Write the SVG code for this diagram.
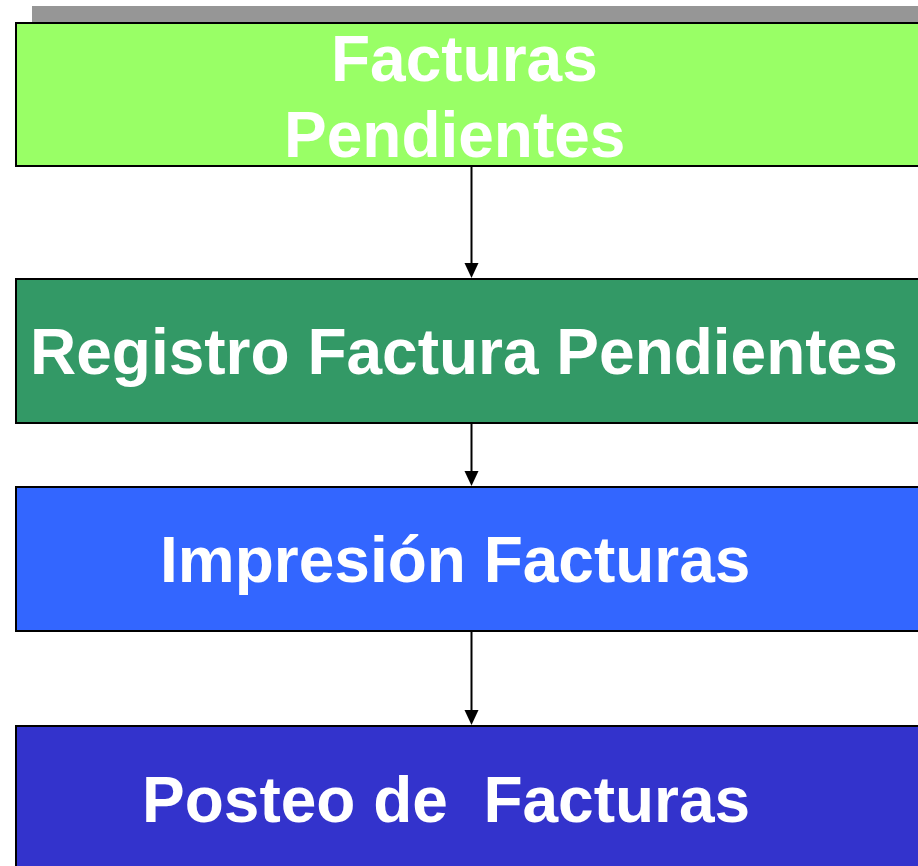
<svg xmlns="http://www.w3.org/2000/svg" width="918" height="866" viewBox="0 0 918 866">
<defs>
<style>
.box{stroke:#000;stroke-width:2}
.lbl{font-family:"Liberation Sans",Arial,sans-serif;font-weight:bold;font-size:64px;fill:#fff;white-space:pre}
.conn{stroke:#000;stroke-width:2;fill:none}
.head{fill:#000}
</style>
</defs>
<rect x="0" y="0" width="918" height="866" fill="#fff"/>
<rect x="32" y="6" width="900" height="16" fill="#969696"/>
<g id="node1">
<rect class="box" x="16" y="23" width="920" height="143" fill="#99FF66"/>
<text class="lbl" x="331" y="81">Facturas</text>
<text class="lbl" x="284" y="157">Pendientes</text>
</g>
<g id="node2">
<rect class="box" x="16" y="279" width="920" height="144" fill="#339966"/>
<text class="lbl" x="30" y="374">Registro Factura Pendientes</text>
</g>
<g id="node3">
<rect class="box" x="16" y="487" width="920" height="144" fill="#3366FF"/>
<text class="lbl" x="160" y="582">Impresión Facturas</text>
</g>
<g id="node4">
<rect class="box" x="16" y="726" width="920" height="150" fill="#3333CC"/>
<text class="lbl" x="142" y="822" xml:space="preserve">Posteo de  Facturas</text>
</g>
<g id="connectors">
<line class="conn" x1="471.5" y1="167" x2="471.5" y2="264"/>
<path class="head" d="M464.5,263 L478.5,263 L471.5,278 Z"/>
<line class="conn" x1="471.5" y1="424" x2="471.5" y2="472"/>
<path class="head" d="M464.5,471 L478.5,471 L471.5,486 Z"/>
<line class="conn" x1="471.5" y1="632" x2="471.5" y2="711"/>
<path class="head" d="M464.5,710 L478.5,710 L471.5,725 Z"/>
</g>
</svg>
